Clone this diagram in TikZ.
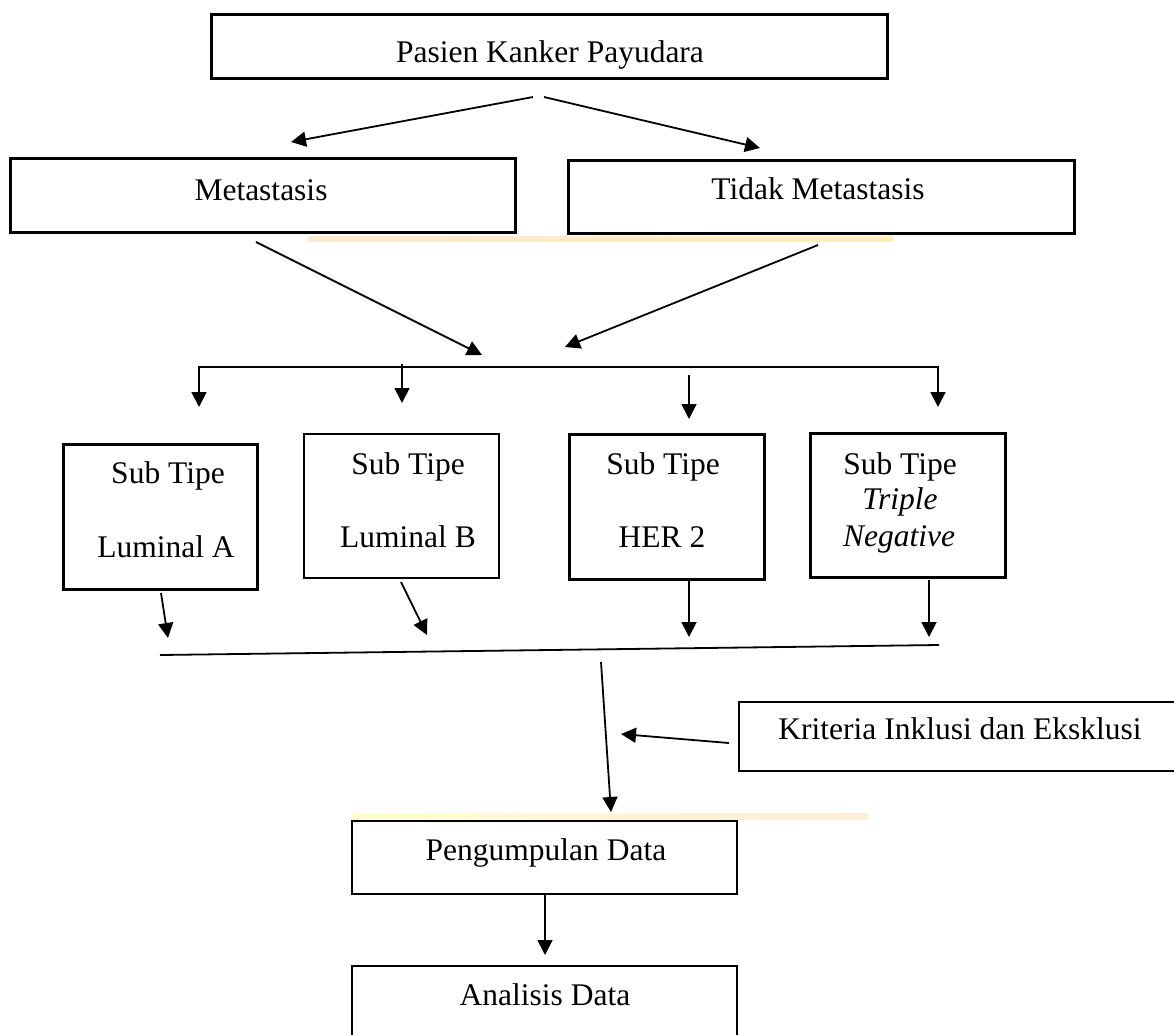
\documentclass[tikz,border=0pt]{standalone}
\usepackage{fontspec}
\setmainfont{Liberation Serif}
\usetikzlibrary{arrows.meta}
\begin{document}
\begin{tikzpicture}[x=1pt,y=-1pt,
  box/.style={draw, rectangle, inner sep=0pt, outer sep=0pt, anchor=north west, line width=3pt},
  thinbox/.style={box, line width=2.2pt},
  lbl/.style={anchor=base, inner sep=0pt, font=\fontsize{31.5}{36}\selectfont},
  conn/.style={line width=1.8pt, -{Triangle[length=15pt,width=15pt]}},
  plainln/.style={line width=1.8pt},
  strip/.style={draw=none, opacity=0.6}]
\useasboundingbox (0,0) rectangle (1174,1034);
\clip (0,0) rectangle (1174,1034);

% faint scan strips
\shade[strip, left color=orange!30, middle color=green!45, right color=yellow!50!orange!45] (308,236) rectangle (893,241);
\shade[strip, left color=yellow!30, middle color=green!30, right color=orange!25] (352,813) rectangle (868,819);

% boxes
\node[box, minimum width=676pt, minimum height=64pt] (top) at (211,14) {};
\node[box, minimum width=505pt, minimum height=74pt] (met) at (10,158) {};
\node[box, minimum width=506pt, minimum height=73pt] (tidak) at (568,160) {};
\node[box, minimum width=194pt, minimum height=145pt] (luma) at (63,444) {};
\node[thinbox, minimum width=195pt, minimum height=144pt] (lumb) at (304,434) {};
\node[box, minimum width=195pt, minimum height=145pt] (her) at (569,434) {};
\node[box, minimum width=195pt, minimum height=144pt] (tn) at (810,433) {};
\node[thinbox, minimum width=445pt, minimum height=69pt] (krit) at (739,702) {};
\node[thinbox, minimum width=385pt, minimum height=73pt] (peng) at (352,821) {};
\node[thinbox, minimum width=385pt, minimum height=80pt] (anal) at (352,966) {};

% texts
\node[lbl] (toptxt) at (550,62) {Pasien Kanker Payudara};
\node[lbl] (mettxt) at (261,200) {Metastasis};
\node[lbl] (tidaktxt) at (818,199) {Tidak Metastasis};
\node[lbl] (lumas) at (168,483) {Sub Tipe};
\node[lbl] (lumat) at (166,557) {Luminal A};
\node[lbl] (lumbs) at (408,474) {Sub Tipe};
\node[lbl] (lumbt) at (408,547) {Luminal B};
\node[lbl] (hers) at (663,474) {Sub Tipe};
\node[lbl] (hert) at (662,547) {HER 2};
\node[lbl] (tns) at (900,474) {Sub Tipe};
\node[lbl] (tnt1) at (900,509) {\itshape Triple};
\node[lbl] (tnt2) at (899,546) {\itshape Negative};
\node[lbl] (krittxt) at (960,739) {Kriteria Inklusi dan Eksklusi};
\node[lbl] (pengtxt) at (546,860) {Pengumpulan Data};
\node[lbl] (analtxt) at (545,1005) {Analisis Data};

% connector coordinates
\coordinate (s1) at (533,97);  \coordinate (e1) at (291,142);
\coordinate (s2) at (544,97);  \coordinate (e2) at (760,148);
\coordinate (s3) at (256,242); \coordinate (e3) at (482,355);
\coordinate (s4) at (818,245); \coordinate (e4) at (565,347);
\coordinate (dl) at (199,367); \coordinate (dr) at (938,367);
\coordinate (d1) at (199,407); \coordinate (d4) at (938,407);
\coordinate (s5) at (402,364); \coordinate (e5) at (402,403);
\coordinate (s6) at (689,375); \coordinate (e6) at (689,419);
\coordinate (s7) at (161,593); \coordinate (e7) at (168,638);
\coordinate (s8) at (401,582); \coordinate (e8) at (427,635);
\coordinate (s9) at (689,581); \coordinate (e9) at (689,637);
\coordinate (s10) at (929,580); \coordinate (e10) at (929,637);
\coordinate (bl) at (160,655); \coordinate (br) at (939,645);
\coordinate (s11) at (601,662); \coordinate (e11) at (611,812);
\coordinate (s12) at (729,743); \coordinate (e12) at (621,734);
\coordinate (s13) at (545,894); \coordinate (e13) at (545,955);

% connectors
\draw[conn] (s1) -- (e1);
\draw[conn] (s2) -- (e2);
\draw[conn] (s3) -- (e3);
\draw[conn] (s4) -- (e4);
\draw[plainln, {Triangle[length=15pt,width=15pt]}-{Triangle[length=15pt,width=15pt]}] (d1) -- (dl) -- (dr) -- (d4);
\draw[conn] (s5) -- (e5);
\draw[conn] (s6) -- (e6);
\draw[conn] (s7) -- (e7);
\draw[conn] (s8) -- (e8);
\draw[conn] (s9) -- (e9);
\draw[conn] (s10) -- (e10);
\draw[plainln] (bl) -- (br);
\draw[conn] (s11) -- (e11);
\draw[conn] (s12) -- (e12);
\draw[conn] (s13) -- (e13);
\end{tikzpicture}
\end{document}
